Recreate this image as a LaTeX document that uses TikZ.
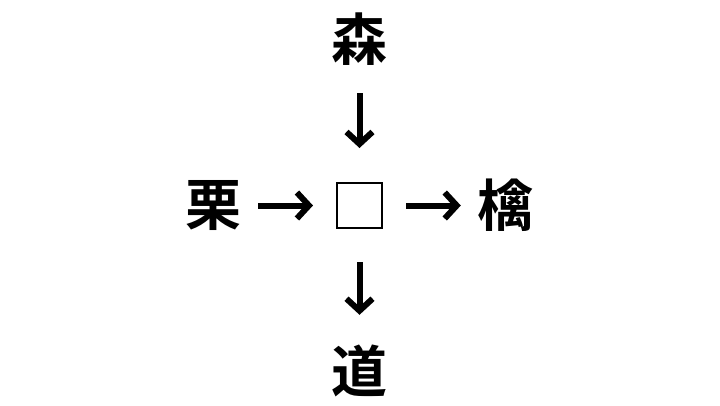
\documentclass[tikz,border=0pt]{standalone}
\usepackage{fontspec}
\newfontfamily\jafont{Noto Sans CJK JP Bold}
\usetikzlibrary{arrows.meta}

\tikzset{
  kanji/.style={inner sep=0pt,minimum size=56pt,font=\jafont\fontsize{56}{60}\selectfont},
  hole/.style={draw,line width=2pt,minimum size=45pt,inner sep=0pt},
  arr/.style={line width=6pt,-{Straight Barb[length=12pt,width=26pt]}}
}

\begin{document}
\begin{tikzpicture}[x=1pt,y=-1pt]
      \useasboundingbox[fill=white] (0,0) rectangle (720,405);
      \node[hole] (box) at (359.5,205.5) {};
      \node[kanji] (mori) at (359.5,39) {森};
      \node[kanji] (kuri) at (213,205.5) {栗};
      \node[kanji] (ringo) at (505,205.5) {檎};
      \node[kanji] (michi) at (359.5,371) {道};
      \draw[arr,shorten <=17pt,shorten >=23pt] (kuri.east) -- (box.west);
      \draw[arr,shorten <=23pt,shorten >=16pt] (box.east) -- (ringo.west);
      \draw[arr,shorten <=26pt,shorten >=34pt] (mori.south) -- (box.north);
      \draw[arr,shorten <=33pt,shorten >=28pt] (box.south) -- (michi.north);
\end{tikzpicture}
\end{document}
